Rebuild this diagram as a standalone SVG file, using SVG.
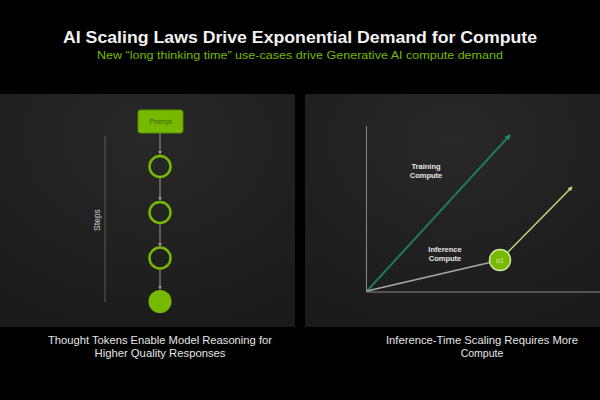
<svg xmlns="http://www.w3.org/2000/svg" width="600" height="400" viewBox="0 0 600 400">
<defs>
<radialGradient id="pg" cx="0.5" cy="0.2" r="0.9">
<stop offset="0" stop-color="#282828"/>
<stop offset="1" stop-color="#1a1a1a"/>
</radialGradient>
<marker id="ag" viewBox="0 0 6 6" refX="5" refY="3" markerWidth="4" markerHeight="4" orient="auto"><path d="M0,0 L6,3 L0,6 z" fill="#9a9a9a"/></marker>
<marker id="at" viewBox="0 0 6 6" refX="5" refY="3" markerWidth="3" markerHeight="3" orient="auto"><path d="M0,0 L6,3 L0,6 z" fill="#1f8a63"/></marker>
<marker id="al" viewBox="0 0 6 6" refX="5" refY="3" markerWidth="3" markerHeight="3" orient="auto"><path d="M0,0 L6,3 L0,6 z" fill="#b5e07a"/></marker>
</defs>
<style>
text{font-family:"Liberation Sans","DejaVu Sans",sans-serif}
.title{font-size:17px;font-weight:bold;fill:#f2f2f2}
.sub{font-size:11.5px;fill:#76b900}
.cap{font-size:10.5px;fill:#e6e6e6}
.lbl{font-size:7.5px;font-weight:bold;fill:#e8e8e8}
.step{fill:none;stroke:#76b900;stroke-width:2.5}
.conn{stroke:#9a9a9a;stroke-width:1;fill:none}
</style>
<rect width="600" height="400" fill="#000"/>
<text class="title" x="300" y="43" text-anchor="middle" textLength="474" lengthAdjust="spacingAndGlyphs">AI Scaling Laws Drive Exponential Demand for Compute</text>
<text class="sub" x="300" y="59" text-anchor="middle" textLength="406" lengthAdjust="spacingAndGlyphs">New  “long thinking time” use-cases drive Generative AI compute demand</text>

<g id="left-panel">
<rect x="0" y="94" width="295" height="233" fill="url(#pg)"/>
<line x1="105" y1="136" x2="105" y2="302" stroke="#6a6a6a" stroke-width="0.8"/>
<text x="100" y="220" transform="rotate(-90 100 220)" text-anchor="middle" style="font-size:8.5px;fill:#d0d0d0">Steps</text>
</g>
<g id="connectors">
<line class="conn" x1="160" y1="133" x2="160" y2="154" marker-end="url(#ag)"/>
<line class="conn" x1="160" y1="178" x2="160" y2="200" marker-end="url(#ag)"/>
<line class="conn" x1="160" y1="224" x2="160" y2="246" marker-end="url(#ag)"/>
<line class="conn" x1="160" y1="270" x2="160" y2="289" marker-end="url(#ag)"/>
</g>
<g id="prompt">
<rect x="138" y="110" width="45" height="23" rx="2.5" fill="#76b900" stroke="#5a8f00" stroke-width="1"/>
<text x="160.5" y="124" text-anchor="middle" style="font-size:7px;fill:#3d6000">Prompt</text>
</g>
<g id="step1"><circle class="step" cx="160" cy="166.5" r="10.5"/></g>
<g id="step2"><circle class="step" cx="160" cy="212.5" r="10.5"/></g>
<g id="step3"><circle class="step" cx="160" cy="258" r="10.5"/></g>
<g id="answer"><circle cx="160" cy="301.5" r="11.5" fill="#76b900"/></g>
<text class="cap" x="160" y="344" text-anchor="middle" textLength="224" lengthAdjust="spacingAndGlyphs">Thought Tokens Enable Model Reasoning for</text>
<text class="cap" x="160" y="357" text-anchor="middle" textLength="131" lengthAdjust="spacingAndGlyphs">Higher Quality Responses</text>

<g id="right-panel">
<rect x="305" y="94" width="295" height="233" fill="url(#pg)"/>
<line x1="366.5" y1="126" x2="366.5" y2="292" stroke="#8a8a8a" stroke-width="1"/>
<line x1="366.5" y1="292" x2="600" y2="292" stroke="#8a8a8a" stroke-width="1"/>
</g>
<g id="training">
<line x1="367" y1="291" x2="510" y2="135" stroke="#1f7a57" stroke-width="2" marker-end="url(#at)"/>
<text class="lbl" x="426" y="169" text-anchor="middle">Training</text>
<text class="lbl" x="426" y="178" text-anchor="middle">Compute</text>
</g>
<g id="inference">
<line x1="367" y1="291" x2="492" y2="262" stroke="#a8a8a8" stroke-width="1.5"/>
<line x1="507" y1="253" x2="572" y2="187" stroke="#b5e07a" stroke-width="1.5" marker-end="url(#al)"/>
<text class="lbl" x="445" y="252" text-anchor="middle">Inference</text>
<text class="lbl" x="445" y="261" text-anchor="middle">Compute</text>
</g>
<g id="o1">
<circle cx="500" cy="260" r="10.5" fill="#76b900" stroke="#c8e89a" stroke-width="1.5"/>
<text x="500" y="263" text-anchor="middle" style="font-size:7px;fill:#d8f0b0">o1</text>
</g>
<text class="cap" x="482" y="344" text-anchor="middle" textLength="192" lengthAdjust="spacingAndGlyphs">Inference-Time Scaling Requires More</text>
<text class="cap" x="482" y="357" text-anchor="middle">Compute</text>
</svg>
